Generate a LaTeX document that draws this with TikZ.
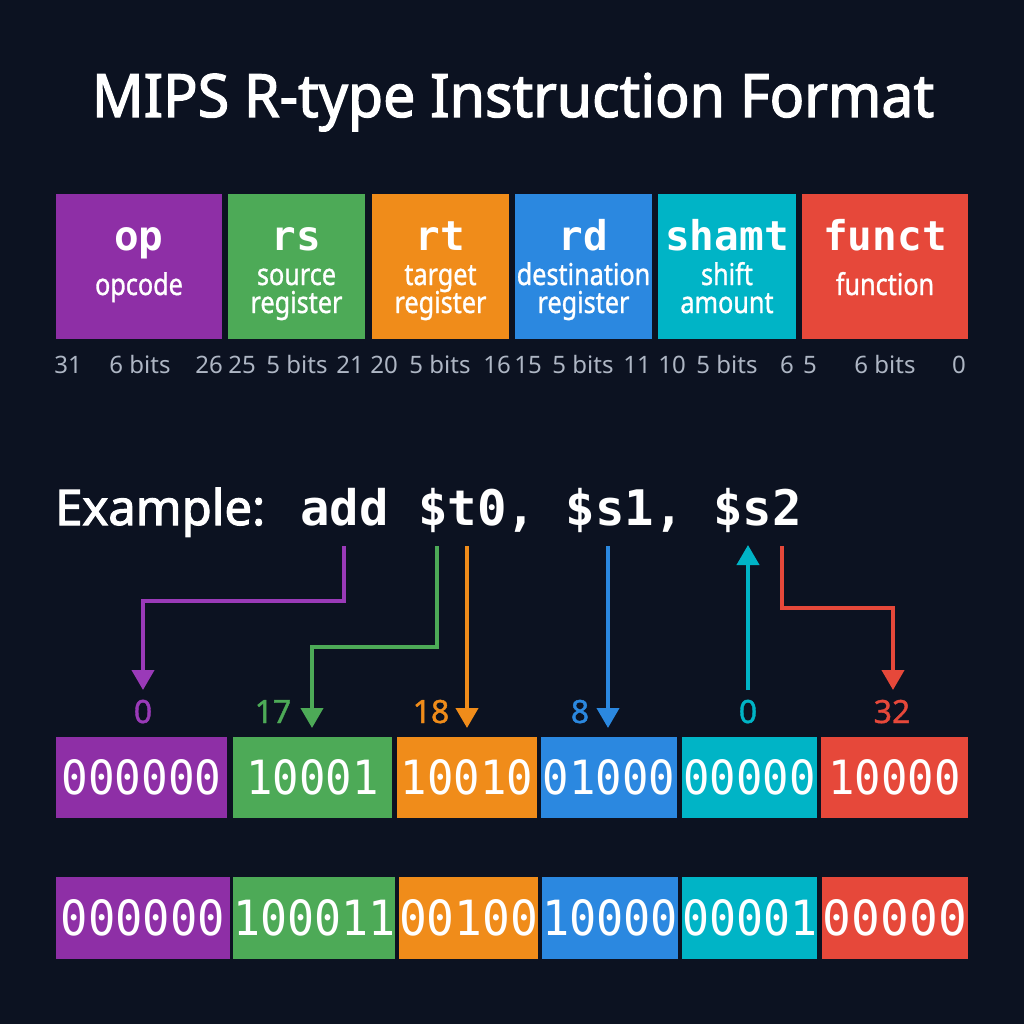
\documentclass[tikz,border=0pt]{standalone}
\usepackage{fontspec}
\usepackage{graphicx}
\setmainfont{Noto Sans}
\newfontfamily\heavyfont{Noto Sans}[FakeBold=2.2]
\newfontfamily\medfont{Noto Sans}[FakeBold=1.2]
\newfontfamily\monofont{DejaVu Sans Mono}
\usetikzlibrary{arrows.meta}
\definecolor{bg}{HTML}{0C1221}
\definecolor{cpur}{HTML}{8E2FA6}
\definecolor{cgrn}{HTML}{4DAA57}
\definecolor{corg}{HTML}{F08C1A}
\definecolor{cblu}{HTML}{2B88E0}
\definecolor{ccyn}{HTML}{00B4C6}
\definecolor{cred}{HTML}{E6483A}
\definecolor{cgray}{HTML}{AEB6C4}
\definecolor{lpur}{HTML}{9A3AB8}
\newcommand\bitstr[3]{\resizebox{#1}{#2}{\monofont #3}}
\begin{document}
\begin{tikzpicture}[x=1pt,y=-1pt,
  box/.style={rectangle, inner sep=0pt, outer sep=0pt, draw=none, anchor=north west, text=white},
  arr/.style={line width=4pt, -{Triangle[width=22pt,length=20pt]}},
  bitlbl/.style={anchor=base, text=cgray, font=\fontsize{24}{24}\selectfont, inner sep=0pt},
  big/.style={anchor=base, text=white, font=\fontsize{41}{41}\selectfont\monofont\bfseries, inner sep=0pt},
  sub/.style={anchor=base, text=white, font=\fontsize{30}{30}\selectfont\medfont, inner sep=0pt, xscale=0.84},
  val/.style={anchor=base, font=\fontsize{32}{32}\selectfont\medfont, inner sep=0pt}]
\fill[bg] (0,0) rectangle (1024,1024);
\useasboundingbox (0,0) rectangle (1024,1024);
% title
\node[anchor=base, inner sep=0pt, text=white] (title) at (513,117)
  {\resizebox{842pt}{44pt}{\heavyfont MIPS R-type Instruction Format}};
% top fields
\node[box, fill=cpur, minimum width=166pt, minimum height=145pt] (fop) at (56,194) {};
\node[box, fill=cgrn, minimum width=137pt, minimum height=145pt] (frs) at (228,194) {};
\node[box, fill=corg, minimum width=137pt, minimum height=145pt] (frt) at (372,194) {};
\node[box, fill=cblu, minimum width=137pt, minimum height=145pt] (frd) at (515,194) {};
\node[box, fill=ccyn, minimum width=138pt, minimum height=145pt] (fsh) at (658,194) {};
\node[box, fill=cred, minimum width=166pt, minimum height=145pt] (ffn) at (802,194) {};
\node[big] (nop) at (139,250) {op};
\node[sub] (sop) at (139,295) {opcode};
\node[big] (nrs) at (296.5,250) {rs};
\node[sub] (srs1) at (296.5,285) {source};
\node[sub] (srs2) at (296.5,313) {register};
\node[big] (nrt) at (440.5,250) {rt};
\node[sub] (srt1) at (440.5,285) {target};
\node[sub] (srt2) at (440.5,313) {register};
\node[big] (nrd) at (583.5,250) {rd};
\node[sub] (srd1) at (583.5,285) {destination};
\node[sub] (srd2) at (583.5,313) {register};
\node[big] (nsh) at (727,250) {shamt};
\node[sub] (ssh1) at (727,285) {shift};
\node[sub] (ssh2) at (727,313) {amount};
\node[big] (nfn) at (885,250) {funct};
\node[sub] (sfn) at (885,295) {function};
% bit positions
\node[bitlbl] (b31) at (68,373) {31};
\node[bitlbl] (w1) at (140,373) {6 bits};
\node[bitlbl] (b26) at (209,373) {26};
\node[bitlbl] (b25) at (242,373) {25};
\node[bitlbl] (w2) at (297,373) {5 bits};
\node[bitlbl] (b21) at (350,373) {21};
\node[bitlbl] (b20) at (384,373) {20};
\node[bitlbl] (w3) at (440,373) {5 bits};
\node[bitlbl] (b16) at (497,373) {16};
\node[bitlbl] (b15) at (528,373) {15};
\node[bitlbl] (w4) at (583,373) {5 bits};
\node[bitlbl] (b11) at (637,373) {11};
\node[bitlbl] (b10) at (672,373) {10};
\node[bitlbl] (w5) at (727,373) {5 bits};
\node[bitlbl] (b6) at (787,373) {6};
\node[bitlbl] (b5) at (810,373) {5};
\node[bitlbl] (w6) at (885,373) {6 bits};
\node[bitlbl] (b0) at (959,373) {0};
% example
\node[anchor=base west, inner sep=0pt, text=white] (ex) at (55,525) {\resizebox{210pt}{!}{\fontsize{49}{49}\selectfont\heavyfont Example:}};
\node[anchor=base west, inner sep=0pt, text=white, font=\fontsize{49}{49}\selectfont\monofont\bfseries] (code) at (300,525) {add \$t0, \$s1, \$s2};
% arrow points
\coordinate (sA) at (344,546);
\coordinate (sB) at (437,546);
\coordinate (sC) at (467,546);
\coordinate (sD) at (608,546);
\coordinate (sE) at (748,690);
\coordinate (sF) at (782,546);
\coordinate (tA) at (143,690);
\coordinate (tB) at (312,728);
\coordinate (tC) at (467,728);
\coordinate (tD) at (608,728);
\coordinate (tE) at (748,545);
\coordinate (tF) at (893,690);
\draw[arr, lpur] (sA) -- ++(0,55) -| (tA);
\draw[arr, cgrn] (sB) -- ++(0,101) -| (tB);
\draw[arr, corg] (sC) -- (tC);
\draw[arr, cblu] (sD) -- (tD);
\draw[arr, ccyn] (sE) -- (tE);
\draw[arr, cred] (sF) -- ++(0,62) -| (tF);
% values
\node[val, text=lpur] (v0) at (143,723) {0};
\node[val, text=cgrn] (v17) at (273,723) {17};
\node[val, text=corg] (v18) at (431,723) {18};
\node[val, text=cblu] (v8) at (580,723) {8};
\node[val, text=ccyn] (vs) at (748,723) {0};
\node[val, text=cred] (v32) at (892,723) {32};
% middle row
\node[box, fill=cpur, minimum width=171pt, minimum height=81pt] (m1) at (56,737) {\bitstr{160pt}{35pt}{000000}};
\node[box, fill=cgrn, minimum width=159pt, minimum height=81pt] (m2) at (233,737) {\bitstr{132pt}{35pt}{10001}};
\node[box, fill=corg, minimum width=140pt, minimum height=81pt] (m3) at (397,737) {\bitstr{132pt}{35pt}{10010}};
\node[box, fill=cblu, minimum width=136pt, minimum height=81pt] (m4) at (541,737) {\bitstr{132pt}{35pt}{01000}};
\node[box, fill=ccyn, minimum width=135pt, minimum height=81pt] (m5) at (682,737) {\bitstr{132pt}{35pt}{00000}};
\node[box, fill=cred, minimum width=147pt, minimum height=81pt] (m6) at (821,737) {\bitstr{132pt}{35pt}{10000}};
% bottom row
\node[box, fill=cpur, minimum width=174pt, minimum height=82pt] (r1) at (56,877) {\bitstr{164pt}{36pt}{000000}};
\node[box, fill=cgrn, minimum width=162pt, minimum height=82pt] (r2) at (233,877) {\bitstr{162pt}{36pt}{100011}};
\node[box, fill=corg, minimum width=139pt, minimum height=82pt] (r3) at (399,877) {\bitstr{139pt}{36pt}{00100}};
\node[box, fill=cblu, minimum width=136pt, minimum height=82pt] (r4) at (542,877) {\bitstr{136pt}{36pt}{10000}};
\node[box, fill=ccyn, minimum width=135pt, minimum height=82pt] (r5) at (682,877) {\bitstr{135pt}{36pt}{00001}};
\node[box, fill=cred, minimum width=146pt, minimum height=82pt] (r6) at (822,877) {\bitstr{144pt}{36pt}{00000}};
\end{tikzpicture}
\end{document}
